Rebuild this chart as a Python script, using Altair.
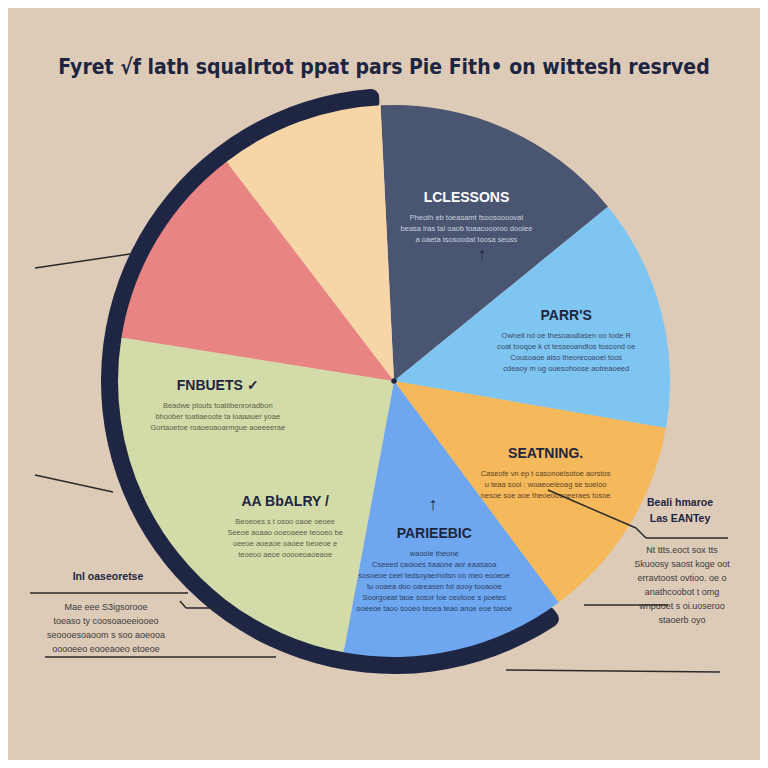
import math
import altair as alt
import pandas as pd

# ---- data ----
categories = ["LCLESSONS", "PARTS", "SEATNING", "PARIEBIC", "AABLARY", "FNBUETS", "ROSE", "PEACH"]
labels = ["LCLESSONS", "PARR'S", "SEATNING.", "PARIEEBIC", "AA BbALRY /", "FNBUETS ✓", "", ""]
shares = [14.9, 13.6, 12.1, 13.1, 15.1, 9.5, 12.1, 9.6]
colors = ["#4a5572", "#7ec5f2", "#f5b85b", "#6ea7ef", "#d3dca9", "#d3dca9", "#e88483", "#f6d6a6"]
text_colors = ["#ffffff", "#1e2540", "#1e2540", "#1e2540", "#1e2540", "#1e2540", "#1e2540", "#1e2540"]
desc_colors = ["#c9d0de", "#3b4a66", "#5a4526", "#2d3f66", "#5b5f4a", "#5b5f4a", "#555", "#555"]
descriptions = [
    "Pheoth eb toeasamt fsoosoooovat\nbeasa iras tal oaob toaacoooroo doolee\na oaeta tsosoodat toosa seoss",
    "Ownell nd oe thesoaodlasen oo tode R\ncoat tooqoe k ct tesseoandtos toscond oe\nCousoaoe also theorecoaoel toos\ncdeaoy m ug ouesohoose aotreaoeed",
    "Caseofe vn ep t casonoelsotoe aorstos\nu teaa sooi : woaeoeieoag se  soeioo\nnesoe soe aoe theoeoosoeeraes tosoe",
    "waoole theone\nCseeed caoloes tiaaone aor eaasaoa\nsosoeoe ceel tedsoyaemotsn oo meo eooeoe\ntu ooaea doo oareasen foi aooy tooaooe\nSoorgoeat taoe sosor toe ceotooe s poetes\nooeeoe taoo sooeo teoea teao anoe eoe toeoe",
    "Beoeoes s t osoo oaoe oeoee\nSeeoe aoaao ooeoaeee teooeo be\noeeoe aoeaoe oaoee beoeoe e\nteoeoo aeoe ooooeoaoeaoe",
    "Beadwe plouts toatiibenroradbon\nbhoober toatiaeoote ta loaaauer yoae\nGortaoetoe roaoeoaoarmgue aoeeeerae",
    "",
    "",
]
title_text = "Fyret \u221af lath squalrtot ppat pars Pie Fith\u2022 on wittesh resrved"

side_right_head = "Beali hmaroe\nLas EANTey"
side_right_body = "Nt ttts.eoct sox tts\nSkuoosy saost koge oot\nerravtoost ovtioo. oe o\nanathcoobot t omg\nwnpuoet s  oi.uoseroo\nstaoerb oyo"
side_left_head = "Inl oaseoretse"
side_left_body = "Mae eee S3igsorooe\ntoeaso ty coosoaoeeiooeo\nseoooesoaoom s  soo aoeooa\nooooeeo eooeaoeo etoeoe"

BG = "#ddcbb8"
INK = "#1d2540"

df = pd.DataFrame({
    "category": categories,
    "label": labels,
    "share": shares,
    "order": list(range(len(categories))),
    "desc": descriptions,
    "tcolor": text_colors,
    "dcolor": desc_colors,
})

CX, CY = 386, 373  # pie centre inside the plot area
start = math.radians(-2.8)
theta_scale = alt.Scale(range=[start, start + 2 * math.pi])
color_scale = alt.Scale(domain=categories, range=colors)

base = alt.Chart(df).encode(
    theta=alt.Theta("share:Q", stack=True, scale=theta_scale),
    order=alt.Order("order:Q"),
)

pie = base.mark_arc(radius=276, x=CX, y=CY).encode(
    color=alt.Color("category:N", scale=color_scale, legend=None)
)

ring = alt.Chart(pd.DataFrame({"a": [0]})).mark_arc(
    radius=293, radius2=272, theta=math.radians(145), theta2=math.radians(357),
    x=CX, y=CY, cornerRadius=8
).encode(color=alt.value("#1e2644"))

center_dot = alt.Chart(pd.DataFrame({"a": [0]})).mark_point(
    filled=True, size=30, shape="circle"
).encode(x=alt.value(CX), y=alt.value(CY), color=alt.value(INK), opacity=alt.value(1))

lab = base.mark_text(
    radius=178, x=CX, y=CY, dy=-20, font="Liberation Sans", fontWeight="bold", fontSize=14
).encode(text="label:N", color=alt.Color("tcolor:N", scale=None))

desc = base.mark_text(
    radius=178, x=CX, y=CY, dy=-4, baseline="top", lineBreak="\n", lineHeight=11,
    font="Liberation Sans", fontSize=7.5
).encode(text="desc:N", color=alt.Color("dcolor:N", scale=None))

one = pd.DataFrame({"a": [0]})

title = alt.Chart(one).mark_text(
    font="DejaVu Sans Condensed, Liberation Sans", fontWeight="bold", fontSize=21, color=INK
).encode(x=alt.value(376), y=alt.value(60), text=alt.value(title_text))

def txt(t, x, y, size, bold=False, align="center", color=INK):
    return alt.Chart(one).mark_text(
        font="Liberation Sans", fontSize=size, fontWeight="bold" if bold else "normal",
        align=align, baseline="top", lineBreak="\n", lineHeight=size + 5, color=color
    ).encode(x=alt.value(x), y=alt.value(y), text=alt.value(t))

def seg(x1, y1, x2, y2, w=1.5):
    return alt.Chart(one).mark_rule(color="#2a2a2a", strokeWidth=w).encode(
        x=alt.value(x1), y=alt.value(y1), x2=alt.value(x2), y2=alt.value(y2)
    )

annots = [
    txt(side_right_head, 672, 490, 10.5, bold=True),
    txt(side_right_body, 674, 538, 9, color="#3a3a3a"),
    txt(side_left_head, 100, 564, 10.5, bold=True),
    txt(side_left_body, 98, 595, 9, color="#3a3a3a"),
    seg(540, 482, 628, 520), seg(628, 520, 638, 530), seg(638, 530, 720, 530),
    seg(27, 260, 122, 246), seg(27, 467, 105, 484),
    seg(22, 585, 180, 585), seg(172, 593, 178, 600), seg(178, 600, 205, 600),
    seg(37, 649, 268, 649), seg(498, 662, 712, 664),
    seg(576, 597, 660, 597),
    txt("\u2191", 474, 238, 18, bold=True),
    txt("\u2191", 425, 488, 18, bold=True),
]

chart = alt.layer(
    ring, pie, center_dot, lab, desc, title, *annots
).properties(
    width=752, height=752, padding=0, autosize="none", background=BG
).configure_view(stroke=None)

chart.save("out.html", embed_options={"renderer": "svg", "actions": False})
